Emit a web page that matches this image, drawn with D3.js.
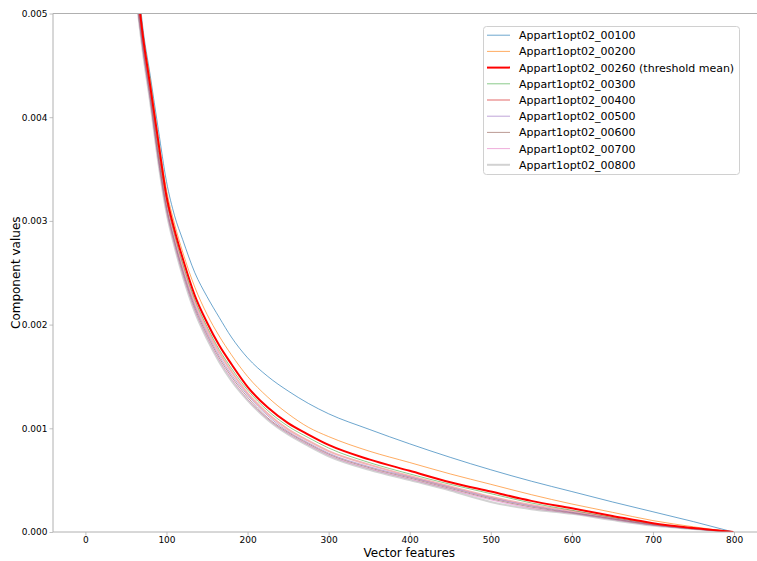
<!DOCTYPE html>
<html><head><meta charset="utf-8">
<script src="https://cdn.jsdelivr.net/npm/d3@7"></script>
<style>body{margin:0;background:#fff}</style>
</head><body>
<svg id="chart" width="757" height="561"></svg>
<script>
const xs = [40,50,60,70,80,90,100,110,120,135,150,165,180,200,225,250,275,300,350,400,450,500,550,600,650,700,750,799];
const s00100 = [0.0092,0.0071,0.0058,0.00492,0.00440,0.00388,0.00338,0.00305,0.00282,0.00250,0.00227,0.00207,0.00188,0.00168,0.00150,0.00136,0.00124,0.00114,0.00099,0.00085,0.00072,0.00060,0.00049,0.00039,0.00029,0.000195,0.00010,0];
const s00200 = [0.0091,0.0070,0.0057,0.00488,0.00436,0.00380,0.00330,0.00297,0.00270,0.00236,0.00210,0.00189,0.00171,0.00150,0.00130,0.00114,0.00101,0.00092,0.00078,0.00067,0.00056,0.00046,0.00036,0.00027,0.00019,0.00011,0.00005,0];
const s00260 = [0.0090,0.0069,0.0056,0.00484,0.00430,0.00376,0.00324,0.00291,0.00264,0.00228,0.00202,0.00180,0.00162,0.00140,0.00120,0.00105,0.00094,0.00084,0.00070,0.00059,0.00048,0.00039,0.00030,0.000228,0.000155,0.000085,0.000038,0];
const s00300 = [0.0089,0.0068,0.0055,0.00478,0.00426,0.00368,0.00320,0.00287,0.00259,0.00224,0.00198,0.00176,0.00158,0.00137,0.00117,0.00102,0.00091,0.00081,0.00067,0.00056,0.00046,0.00037,0.00028,0.00021,0.00014,0.000078,0.000035,0];
const s00400 = [0.0088,0.0068,0.0055,0.00476,0.00423,0.00365,0.00317,0.00284,0.00256,0.00221,0.00195,0.00173,0.00155,0.00134,0.00114,0.00099,0.00088,0.00078,0.00065,0.00054,0.00044,0.00034,0.00026,0.00020,0.000135,0.000074,0.000033,0];
const s00500 = [0.0088,0.0067,0.0055,0.00474,0.00420,0.00362,0.00314,0.00281,0.00253,0.00218,0.00192,0.00170,0.00152,0.00132,0.00112,0.00097,0.00086,0.00076,0.00063,0.00053,0.00043,0.00033,0.00025,0.00019,0.00013,0.000071,0.000031,0];
const s00600 = [0.0087,0.0067,0.0054,0.00472,0.00418,0.00360,0.00312,0.00279,0.00251,0.00216,0.00190,0.00168,0.00150,0.00130,0.00110,0.00096,0.00085,0.00075,0.00062,0.00052,0.00042,0.00032,0.00024,0.000185,0.000125,0.000068,0.00003,0];
const s00700 = [0.0087,0.0066,0.0054,0.00470,0.00416,0.00358,0.00310,0.00277,0.00249,0.00214,0.00188,0.00166,0.00148,0.00128,0.00109,0.00095,0.00084,0.00074,0.00061,0.00051,0.00041,0.00031,0.00023,0.00018,0.00012,0.000065,0.000029,0];
const s00800 = [0.0086,0.0066,0.0054,0.00468,0.00414,0.00356,0.00308,0.00275,0.00247,0.00212,0.00186,0.00164,0.00146,0.00127,0.00108,0.00094,0.00083,0.00073,0.00060,0.00050,0.00040,0.00029,0.00022,0.000175,0.000115,0.000062,0.000028,0];
const seriesNames = ["Appart1opt02_00100","Appart1opt02_00200","Appart1opt02_00260 (threshold mean)","Appart1opt02_00300","Appart1opt02_00400","Appart1opt02_00500","Appart1opt02_00600","Appart1opt02_00700","Appart1opt02_00800"];
const seriesValues = [s00100,s00200,s00260,s00300,s00400,s00500,s00600,s00700,s00800];
const xTicks = [0,100,200,300,400,500,600,700,800];
const yTicks = [0,0.001,0.002,0.003,0.004,0.005];

const colors = ["#1f77b4","#ff7f0e","#ff0000","#2ca02c","#d62728","#9467bd","#8c564b","#e377c2","#7f7f7f"];
const widths = [1,1,2,1,2,1,1,1,2];
const opac = [0.65,0.65,1,0.55,0.35,0.6,0.6,0.6,0.35];

const svg = d3.select("#chart");
const L=53, R=765.6, T=13.5, B=532;
const x = d3.scaleLinear().domain([-39.95,838.95]).range([L,R]);
const y = d3.scaleLinear().domain([0,0.005]).range([B,T]);

svg.append("defs").append("clipPath").attr("id","clip")
  .append("rect").attr("x",L).attr("y",T).attr("width",R-L).attr("height",B-T);

const line = d3.line().x(d=>x(d[0])).y(d=>y(d[1])).curve(d3.curveMonotoneX);
const g = svg.append("g").attr("clip-path","url(#clip)");
const order = [0,1,3,4,5,6,7,8,2];
order.forEach(i=>{
  g.append("path").datum(xs.map((v,j)=>[v,seriesValues[i][j]]))
   .attr("d",line).attr("fill","none").attr("stroke",colors[i])
   .attr("stroke-width",widths[i]).attr("stroke-opacity",opac[i]);
});

const spine="#b0b0b0";
const xa = svg.append("g").attr("transform",`translate(0,${B})`)
  .call(d3.axisBottom(x).tickValues(xTicks).tickFormat(d3.format("d")).tickSizeOuter(0).tickSize(3.5).tickPadding(1.5));
const ya = svg.append("g").attr("transform",`translate(${L},0)`)
  .call(d3.axisLeft(y).tickValues(yTicks).tickFormat(d3.format(".3f")).tickSizeOuter(0).tickSize(3.5).tickPadding(2));
[xa,ya].forEach(a=>{
  a.select(".domain").remove();
  a.selectAll(".tick line").attr("stroke",spine).attr("stroke-width",0.8);
  a.selectAll("text").attr("font-family","DejaVu Sans").attr("font-size","9px").attr("fill","#000");
});
svg.append("line").attr("x1",L).attr("x2",R).attr("y1",B).attr("y2",B).attr("stroke",spine).attr("stroke-width",1);
svg.append("line").attr("x1",L).attr("x2",R).attr("y1",T).attr("y2",T).attr("stroke",spine).attr("stroke-width",1);
svg.append("line").attr("x1",L).attr("x2",L).attr("y1",T).attr("y2",B).attr("stroke",spine).attr("stroke-width",1);

svg.append("text").attr("x",(L+R)/2).attr("y",556.5).attr("text-anchor","middle")
  .attr("font-family","DejaVu Sans").attr("font-size","12px").text("Vector features");
svg.append("text").attr("transform",`translate(19.5,${(T+B)/2}) rotate(-90)`).attr("text-anchor","middle")
  .attr("font-family","DejaVu Sans").attr("font-size","12px").text("Component values");

const lg = svg.append("g");
lg.append("rect").attr("x",483.5).attr("y",26.5).attr("width",256).attr("height",148).attr("rx",3)
  .attr("fill","#fff").attr("fill-opacity",0.8).attr("stroke","#d0d0d0").attr("stroke-width",1);
seriesNames.forEach((n,i)=>{
  const yy = 35.2 + i*16.2;
  lg.append("line").attr("x1",487).attr("x2",510).attr("y1",yy).attr("y2",yy)
    .attr("stroke",colors[i]).attr("stroke-width",widths[i]).attr("stroke-opacity",opac[i]);
  lg.append("text").attr("x",519).attr("y",yy+4).attr("font-family","DejaVu Sans")
    .attr("font-size","11px").attr("fill","#000").text(n);
});
</script>
</body></html>
